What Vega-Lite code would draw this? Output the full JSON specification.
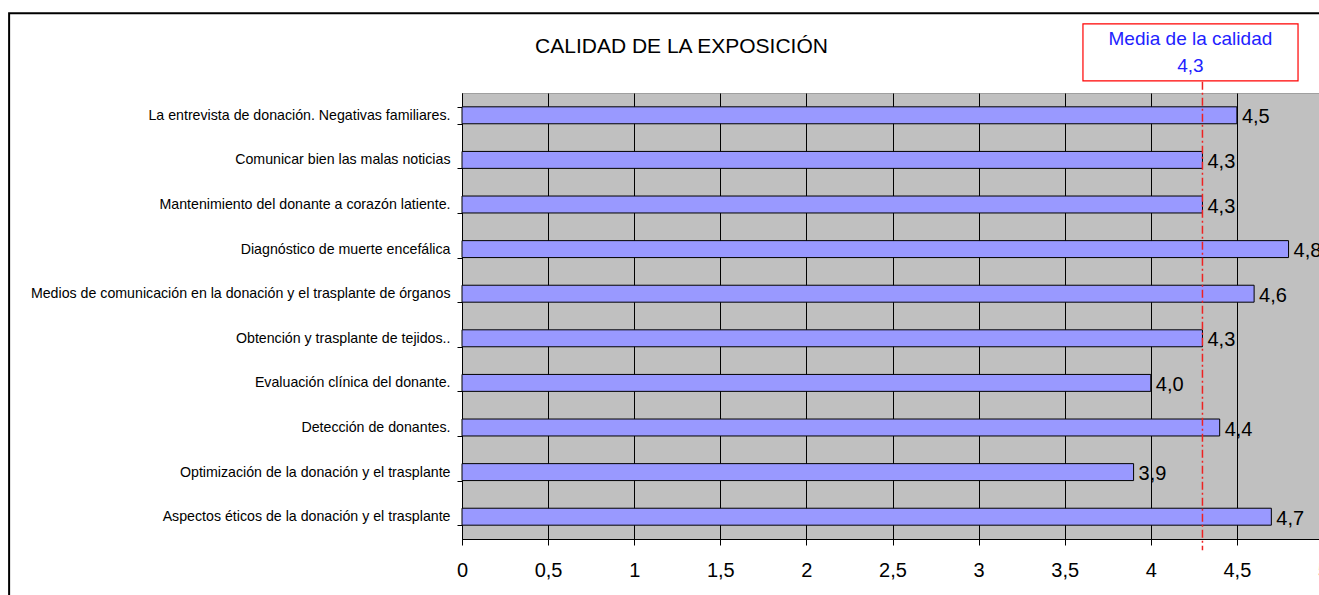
{
  "$schema": "https://vega.github.io/schema/vega-lite/v6.json",
  "autosize": "none",
  "padding": {"left": 462, "top": 93, "right": 60, "bottom": 60},
  "width": 861,
  "height": 446,
  "background": "white",
  "title": {
    "text": "CALIDAD DE LA EXPOSICIÓN",
    "font": "Liberation Sans",
    "fontSize": 21,
    "fontWeight": "normal",
    "color": "black",
    "anchor": "middle",
    "frame": "group",
    "dx": -211,
    "offset": -45
  },
  "config": {
    "view": {"fill": "#C0C0C0", "stroke": "#A0A0A0"},
    "locale": {
      "number": {"decimal": ",", "thousands": ".", "grouping": [3], "currency": ["", " €"]}
    }
  },
  "datasets": {
    "temas": [
      {"tema": "La entrevista de donación. Negativas familiares.", "valor": 4.5},
      {"tema": "Comunicar bien las malas noticias", "valor": 4.3},
      {"tema": "Mantenimiento del donante a corazón latiente.", "valor": 4.3},
      {"tema": "Diagnóstico de muerte encefálica", "valor": 4.8},
      {"tema": "Medios de comunicación en la donación y el trasplante de órganos", "valor": 4.6},
      {"tema": "Obtención y trasplante de tejidos..", "valor": 4.3},
      {"tema": "Evaluación clínica del donante.", "valor": 4.0},
      {"tema": "Detección de donantes.", "valor": 4.4},
      {"tema": "Optimización de la donación y el trasplante", "valor": 3.9},
      {"tema": "Aspectos éticos de la donación y el trasplante", "valor": 4.7}
    ],
    "marco": [{"x": -2.63, "x2": 6.5, "y": -2.5, "y2": 11.79}],
    "caja": [{"x": 3.606, "x2": 4.855, "y": 10.27, "y2": 11.55}],
    "media": [{"x": 4.3, "y": 10.25, "y2": -0.25}],
    "textos": [
      {"texto": "Media de la calidad", "x": 4.23, "y": 11.08},
      {"texto": "4,3", "x": 4.23, "y": 10.47}
    ]
  },
  "layer": [
    {
      "data": {"name": "temas"},
      "encoding": {
        "y": {
          "field": "tema",
          "type": "nominal",
          "sort": null,
          "scale": {"paddingInner": 0.62, "paddingOuter": 0.31},
          "axis": {
            "title": null,
            "labelFont": "Liberation Sans",
            "labelFontSize": 14.2,
            "labelColor": "black",
            "labelPadding": 7,
            "labelLimit": 600,
            "tickSize": 5,
            "tickColor": "black",
            "domainColor": "black",
            "tickBand": "extent"
          }
        },
        "x": {
          "field": "valor",
          "type": "quantitative",
          "scale": {"domain": [0, 5], "nice": false},
          "axis": {
            "title": null,
            "values": [0, 0.5, 1, 1.5, 2, 2.5, 3, 3.5, 4, 4.5, 5],
            "format": "~g",
            "labelExpr": "replace(datum.label, '.', ',')",
            "labelFont": "Liberation Sans",
            "labelFontSize": 20,
            "labelColor": "black",
            "labelPadding": 15,
            "labelFlush": false,
            "labelOverlap": false,
            "tickSize": 6,
            "tickColor": "black",
            "domainColor": "black",
            "grid": true,
            "gridColor": "black",
            "gridOpacity": 1,
            "gridWidth": 1
          }
        }
      },
      "layer": [
        {
          "mark": {"type": "bar", "fill": "#9999FF", "stroke": "black", "strokeWidth": 1}
        },
        {
          "mark": {
            "type": "text",
            "align": "left",
            "baseline": "middle",
            "dx": 5,
            "dy": 2,
            "font": "Liberation Sans",
            "fontSize": 20,
            "color": "black"
          },
          "encoding": {"text": {"field": "valor", "type": "quantitative", "format": ".1f"}}
        }
      ]
    },
    {
      "layer": [
        {
          "data": {"name": "media"},
          "mark": {"type": "rule", "color": "#EE2222", "strokeWidth": 1.5, "strokeDash": [8, 3, 2, 3]},
          "encoding": {
            "x": {"field": "x", "type": "quantitative", "scale": {"domain": [0, 5], "nice": false}},
            "y": {"field": "y", "type": "quantitative", "scale": {"domain": [0, 10], "nice": false}, "axis": null},
            "y2": {"field": "y2"}
          }
        },
        {
          "data": {"name": "caja"},
          "mark": {"type": "rect", "fill": "white", "stroke": "#FF0000", "strokeWidth": 1.2},
          "encoding": {
            "x": {"field": "x", "type": "quantitative", "scale": {"domain": [0, 5], "nice": false}},
            "x2": {"field": "x2"},
            "y": {"field": "y", "type": "quantitative", "scale": {"domain": [0, 10], "nice": false}, "axis": null},
            "y2": {"field": "y2"}
          }
        },
        {
          "data": {"name": "textos"},
          "mark": {
            "type": "text",
            "align": "center",
            "baseline": "alphabetic",
            "font": "Liberation Sans",
            "fontSize": 19,
            "color": "#2222FF"
          },
          "encoding": {
            "x": {"field": "x", "type": "quantitative", "scale": {"domain": [0, 5], "nice": false}},
            "y": {"field": "y", "type": "quantitative", "scale": {"domain": [0, 10], "nice": false}, "axis": null},
            "text": {"field": "texto", "type": "nominal"}
          }
        },
        {
          "data": {"name": "marco"},
          "mark": {"type": "rect", "fillOpacity": 0, "stroke": "black", "strokeWidth": 2},
          "encoding": {
            "x": {"field": "x", "type": "quantitative", "scale": {"domain": [0, 5], "nice": false}},
            "x2": {"field": "x2"},
            "y": {"field": "y", "type": "quantitative", "scale": {"domain": [0, 10], "nice": false}, "axis": null},
            "y2": {"field": "y2"}
          }
        }
      ]
    }
  ],
  "resolve": {"scale": {"y": "independent"}, "axis": {"y": "independent"}}
}
